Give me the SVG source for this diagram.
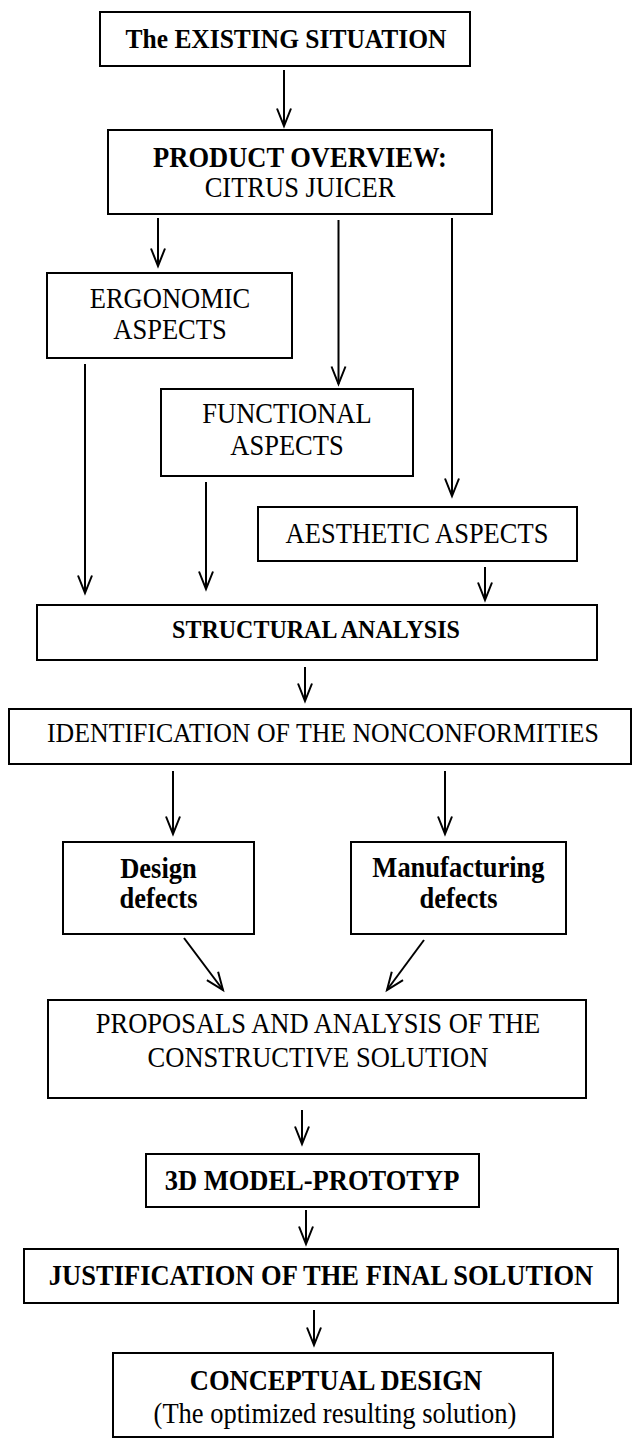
<svg xmlns="http://www.w3.org/2000/svg" width="632" height="1440" viewBox="0 0 632 1440">
<defs>
<style>
.box{fill:#fff;stroke:#000;stroke-width:2}
.t{font-family:"Liberation Serif","Times New Roman",serif;font-size:26.5px;fill:#000;text-anchor:middle}
.b{font-weight:bold}
.c{fill:none;stroke:#000;stroke-width:2}
</style>
<marker id="ah" markerUnits="userSpaceOnUse" viewBox="-20 -10 22 20" refX="0" refY="0" markerWidth="22" markerHeight="20" orient="auto" overflow="visible">
<path d="M-17.5,-7 L0,0 L-17.5,7" fill="none" stroke="#000" stroke-width="2"/>
</marker>
</defs>
<rect width="632" height="1440" fill="#fff"/>
<g id="connectors">
<line class="c" x1="284" y1="70" x2="284" y2="126" marker-end="url(#ah)"/>
<line class="c" x1="158" y1="218" x2="158" y2="266" marker-end="url(#ah)"/>
<line class="c" x1="338.5" y1="220" x2="338.5" y2="384" marker-end="url(#ah)"/>
<line class="c" x1="452" y1="218" x2="452" y2="496" marker-end="url(#ah)"/>
<line class="c" x1="85" y1="364" x2="85" y2="593" marker-end="url(#ah)"/>
<line class="c" x1="206" y1="482" x2="206" y2="589" marker-end="url(#ah)"/>
<line class="c" x1="485" y1="567" x2="485" y2="600" marker-end="url(#ah)"/>
<line class="c" x1="305" y1="667" x2="305" y2="701" marker-end="url(#ah)"/>
<line class="c" x1="173" y1="771" x2="173" y2="834" marker-end="url(#ah)"/>
<line class="c" x1="445" y1="771" x2="445" y2="834" marker-end="url(#ah)"/>
<line class="c" x1="184" y1="938" x2="223" y2="990" marker-end="url(#ah)"/>
<line class="c" x1="424" y1="940" x2="387" y2="990" marker-end="url(#ah)"/>
<line class="c" x1="302" y1="1110" x2="302" y2="1144" marker-end="url(#ah)"/>
<line class="c" x1="306" y1="1210" x2="306" y2="1244" marker-end="url(#ah)"/>
<line class="c" x1="314" y1="1310" x2="314" y2="1345" marker-end="url(#ah)"/>
</g>
<g id="existing">
<rect class="box" x="100" y="12" width="370" height="54"/>
<text class="t b" x="286" y="0" transform="matrix(1 0 0 1.08 0 48)" style="font-size:25.5px">The EXISTING SITUATION</text>
</g>
<g id="product">
<rect class="box" x="108" y="130" width="384" height="84"/>
<text class="t b" x="300" y="0" transform="matrix(1 0 0 1.08 0 167)">PRODUCT OVERVIEW:</text>
<text class="t" x="300" y="0" transform="matrix(1 0 0 1.08 0 197)">CITRUS JUICER</text>
</g>
<g id="ergonomic">
<rect class="box" x="47" y="273" width="245" height="85"/>
<text class="t" x="170" y="0" transform="matrix(1 0 0 1.08 0 308)">ERGONOMIC</text>
<text class="t" x="170" y="0" transform="matrix(1 0 0 1.08 0 339)">ASPECTS</text>
</g>
<g id="functional">
<rect class="box" x="161" y="389" width="252" height="87"/>
<text class="t" x="287" y="0" transform="matrix(1 0 0 1.08 0 423)">FUNCTIONAL</text>
<text class="t" x="287" y="0" transform="matrix(1 0 0 1.08 0 455)">ASPECTS</text>
</g>
<g id="aesthetic">
<rect class="box" x="258" y="507" width="319" height="54"/>
<text class="t" x="417" y="0" transform="matrix(1 0 0 1.08 0 543)">AESTHETIC ASPECTS</text>
</g>
<g id="structural">
<rect class="box" x="37" y="605" width="560" height="55"/>
<text class="t b" x="316" y="0" transform="matrix(1 0 0 1.08 0 638)" style="font-size:24px">STRUCTURAL ANALYSIS</text>
</g>
<g id="identification">
<rect class="box" x="9" y="709" width="622" height="55"/>
<text class="t" x="323" y="0" transform="matrix(1 0 0 1.08 0 742)" style="font-size:25.8px">IDENTIFICATION OF THE NONCONFORMITIES</text>
</g>
<g id="design">
<rect class="box" x="63" y="842" width="191" height="92"/>
<text class="t b" x="158.5" y="0" transform="matrix(1 0 0 1.08 0 878)">Design</text>
<text class="t b" x="158.5" y="0" transform="matrix(1 0 0 1.08 0 908)">defects</text>
</g>
<g id="manufacturing">
<rect class="box" x="351" y="842" width="215" height="92"/>
<text class="t b" x="458.5" y="0" transform="matrix(1 0 0 1.08 0 877)">Manufacturing</text>
<text class="t b" x="458.5" y="0" transform="matrix(1 0 0 1.08 0 908)">defects</text>
</g>
<g id="proposals">
<rect class="box" x="48" y="1000" width="538" height="98"/>
<text class="t" x="318" y="0" transform="matrix(1 0 0 1.08 0 1033)">PROPOSALS AND ANALYSIS OF THE</text>
<text class="t" x="318" y="0" transform="matrix(1 0 0 1.08 0 1067)">CONSTRUCTIVE SOLUTION</text>
</g>
<g id="model">
<rect class="box" x="146" y="1154" width="333" height="53"/>
<text class="t b" x="312" y="0" transform="matrix(1 0 0 1.08 0 1190)">3D MODEL-PROTOTYP</text>
</g>
<g id="justification">
<rect class="box" x="24" y="1249" width="594" height="54"/>
<text class="t b" x="321" y="0" transform="matrix(1 0 0 1.08 0 1285)">JUSTIFICATION OF THE FINAL SOLUTION</text>
</g>
<g id="conceptual">
<rect class="box" x="113" y="1353" width="440" height="84"/>
<text class="t b" x="336" y="0" transform="matrix(1 0 0 1.08 0 1390)">CONCEPTUAL DESIGN</text>
<text class="t" x="335" y="0" transform="matrix(1 0 0 1.08 0 1423)">(The optimized resulting solution)</text>
</g>
</svg>
